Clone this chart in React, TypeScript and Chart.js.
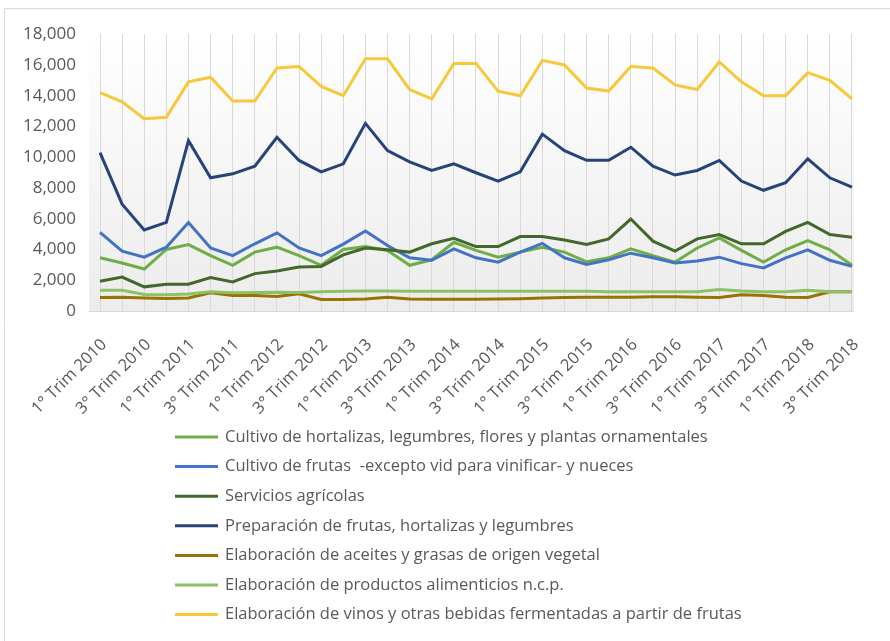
import React, { useEffect, useRef } from 'react';
import { Chart, registerables } from 'chart.js';

Chart.register(...registerables);

const categories = [
  '1° Trim 2010', '2° Trim 2010', '3° Trim 2010', '4° Trim 2010',
  '1° Trim 2011', '2° Trim 2011', '3° Trim 2011', '4° Trim 2011',
  '1° Trim 2012', '2° Trim 2012', '3° Trim 2012', '4° Trim 2012',
  '1° Trim 2013', '2° Trim 2013', '3° Trim 2013', '4° Trim 2013',
  '1° Trim 2014', '2° Trim 2014', '3° Trim 2014', '4° Trim 2014',
  '1° Trim 2015', '2° Trim 2015', '3° Trim 2015', '4° Trim 2015',
  '1° Trim 2016', '2° Trim 2016', '3° Trim 2016', '4° Trim 2016',
  '1° Trim 2017', '2° Trim 2017', '3° Trim 2017', '4° Trim 2017',
  '1° Trim 2018', '2° Trim 2018', '3° Trim 2018',
];

const hortalizas = [3460, 3120, 2730, 4000, 4320, 3600, 2970, 3830, 4150, 3600, 2970, 4000, 4190, 3940, 2970, 3330, 4470, 3940, 3500, 3830, 4150, 3830, 3200, 3460, 4040, 3600, 3180, 4100, 4750, 3940, 3180, 3980, 4580, 3980, 2970];
const frutas = [5120, 3890, 3500, 4150, 5760, 4100, 3600, 4370, 5080, 4100, 3600, 4350, 5200, 4260, 3460, 3300, 4040, 3460, 3180, 3830, 4400, 3460, 3030, 3330, 3760, 3460, 3120, 3250, 3500, 3080, 2800, 3460, 3980, 3300, 2900];
const servicios = [1940, 2210, 1570, 1740, 1740, 2170, 1890, 2430, 2600, 2860, 2900, 3650, 4100, 3980, 3830, 4370, 4730, 4190, 4190, 4840, 4840, 4620, 4320, 4690, 5980, 4540, 3890, 4690, 4970, 4370, 4370, 5180, 5760, 4970, 4800];
const preparacion = [10300, 6950, 5270, 5760, 11080, 8660, 8920, 9420, 11300, 9790, 9050, 9570, 12200, 10430, 9700, 9140, 9570, 8990, 8450, 9050, 11500, 10430, 9800, 9800, 10650, 9420, 8840, 9140, 9790, 8450, 7850, 8340, 9900, 8660, 8060];
const aceites = [880, 900, 850, 820, 850, 1180, 1000, 1000, 950, 1120, 750, 750, 780, 900, 780, 760, 760, 760, 780, 800, 850, 880, 900, 900, 900, 920, 920, 900, 880, 1050, 1000, 900, 880, 1250, 1250];
const alimenticios = [1350, 1350, 1080, 1050, 1100, 1250, 1180, 1200, 1220, 1200, 1250, 1280, 1300, 1300, 1280, 1280, 1280, 1280, 1280, 1280, 1280, 1280, 1280, 1250, 1250, 1250, 1250, 1250, 1400, 1300, 1250, 1250, 1350, 1250, 1250];
const vinos = [14200, 13600, 12500, 12600, 14900, 15200, 13650, 13650, 15800, 15900, 14600, 14000, 16400, 16400, 14400, 13800, 16100, 16100, 14300, 14000, 16300, 16000, 14500, 14300, 15900, 15800, 14700, 14400, 16200, 14900, 14000, 14000, 15500, 15000, 13800];

const seriesNames = [
  'Cultivo de hortalizas, legumbres, flores y plantas ornamentales',
  'Cultivo de frutas  -excepto vid para vinificar- y nueces',
  'Servicios agrícolas',
  'Preparación de frutas, hortalizas y legumbres',
  'Elaboración de aceites y grasas de origen vegetal',
  'Elaboración de productos alimenticios n.c.p.',
  'Elaboración de vinos y otras bebidas fermentadas a partir de frutas',
];
const seriesValues = [hortalizas, frutas, servicios, preparacion, aceites, alimenticios, vinos];
const seriesColors = ['#70AD47', '#4472C4', '#43682B', '#264478', '#997300', '#8CC168', '#F7C83A'];

const yMin = 0;
const yMax = 18000;
const yStep = 2000;

const FONT = "'Open Sans', 'DejaVu Sans', sans-serif";
const TEXT = '#595959';

const framePlugin = {
  id: 'frame',
  beforeDraw(chart: any) {
    const { ctx, chartArea, width, height } = chart;
    ctx.save();
    ctx.fillStyle = '#ffffff';
    ctx.fillRect(0, 0, width, height);
    ctx.strokeStyle = '#d9d9d9';
    ctx.lineWidth = 1;
    ctx.beginPath();
    ctx.moveTo(4.5, height);
    ctx.lineTo(4.5, 8.5);
    ctx.lineTo(width, 8.5);
    ctx.stroke();
    const x0 = chartArea.left - 11;
    const x1 = chartArea.right + 2;
    const g = ctx.createLinearGradient(0, chartArea.top, 0, chartArea.bottom);
    g.addColorStop(0, '#ffffff');
    g.addColorStop(1, '#ececec');
    ctx.fillStyle = g;
    ctx.fillRect(x0, chartArea.top, x1 - x0, chartArea.bottom - chartArea.top);
    ctx.restore();
  },
  afterDatasetsDraw(chart: any) {
    const { ctx, chartArea } = chart;
    ctx.save();
    ctx.strokeStyle = '#d9d9d9';
    ctx.lineWidth = 1;
    ctx.beginPath();
    ctx.moveTo(chartArea.left - 11, chartArea.bottom + 0.5);
    ctx.lineTo(chartArea.right + 2, chartArea.bottom + 0.5);
    ctx.stroke();
    ctx.restore();
  },
  afterDraw(chart: any) {
    const { ctx } = chart;
    ctx.save();
    ctx.font = `16.5px ${FONT}`;
    ctx.textBaseline = 'middle';
    ctx.textAlign = 'left';
    chart.data.datasets.forEach((ds: any, i: number) => {
      const y = 437 + i * 29.6;
      ctx.strokeStyle = ds.borderColor;
      ctx.lineWidth = 3;
      ctx.beginPath();
      ctx.moveTo(175, y);
      ctx.lineTo(218, y);
      ctx.stroke();
      ctx.fillStyle = TEXT;
      ctx.fillText(ds.label, 225, y);
    });
    ctx.restore();
  },
};

export default function App() {
  const ref = useRef<HTMLCanvasElement | null>(null);
  useEffect(() => {
    document.body.style.margin = '0';
    if (!ref.current) return;
    const chart = new Chart(ref.current, {
      type: 'line',
      data: {
        labels: categories,
        datasets: seriesNames.map((name, i) => ({
          label: name,
          data: seriesValues[i],
          borderColor: seriesColors[i],
          backgroundColor: seriesColors[i],
          borderWidth: 3,
          pointRadius: 0,
          pointHoverRadius: 0,
          tension: 0,
          fill: false,
          order: -i,
        })),
      },
      options: {
        responsive: false,
        animation: false,
        layout: { padding: { left: 0, right: 20, top: 32, bottom: 190 } },
        plugins: {
          legend: { display: false },
          tooltip: { enabled: false },
        },
        scales: {
          x: {
            type: 'category',
            offset: false,
            grid: { display: true, color: '#d9d9d9', lineWidth: 1, drawTicks: false },
            border: { display: false },
            ticks: {
              autoSkip: false,
              maxRotation: 45,
              minRotation: 45,
              padding: 24,
              labelOffset: 4,
              color: TEXT,
              font: { family: FONT, size: 16.5 },
              callback: (_v: any, i: number) => (i % 2 === 0 ? categories[i] : ''),
            },
            afterFit: (s: any) => { s.height = 140; },
          },
          y: {
            min: yMin,
            max: yMax,
            grid: { display: false, drawTicks: false },
            border: { display: false },
            ticks: {
              stepSize: yStep,
              padding: 24,
              color: TEXT,
              font: { family: FONT, size: 17 },
              callback: (v: any) => Number(v).toLocaleString('en-US'),
            },
            afterFit: (s: any) => { s.width = 100; },
          },
        },
      },
      plugins: [framePlugin],
    });
    return () => chart.destroy();
  }, []);
  return (
    <div style={{ width: 890, height: 641 }}>
      <canvas ref={ref} width={890} height={641} style={{ display: 'block' }} />
    </div>
  );
}
